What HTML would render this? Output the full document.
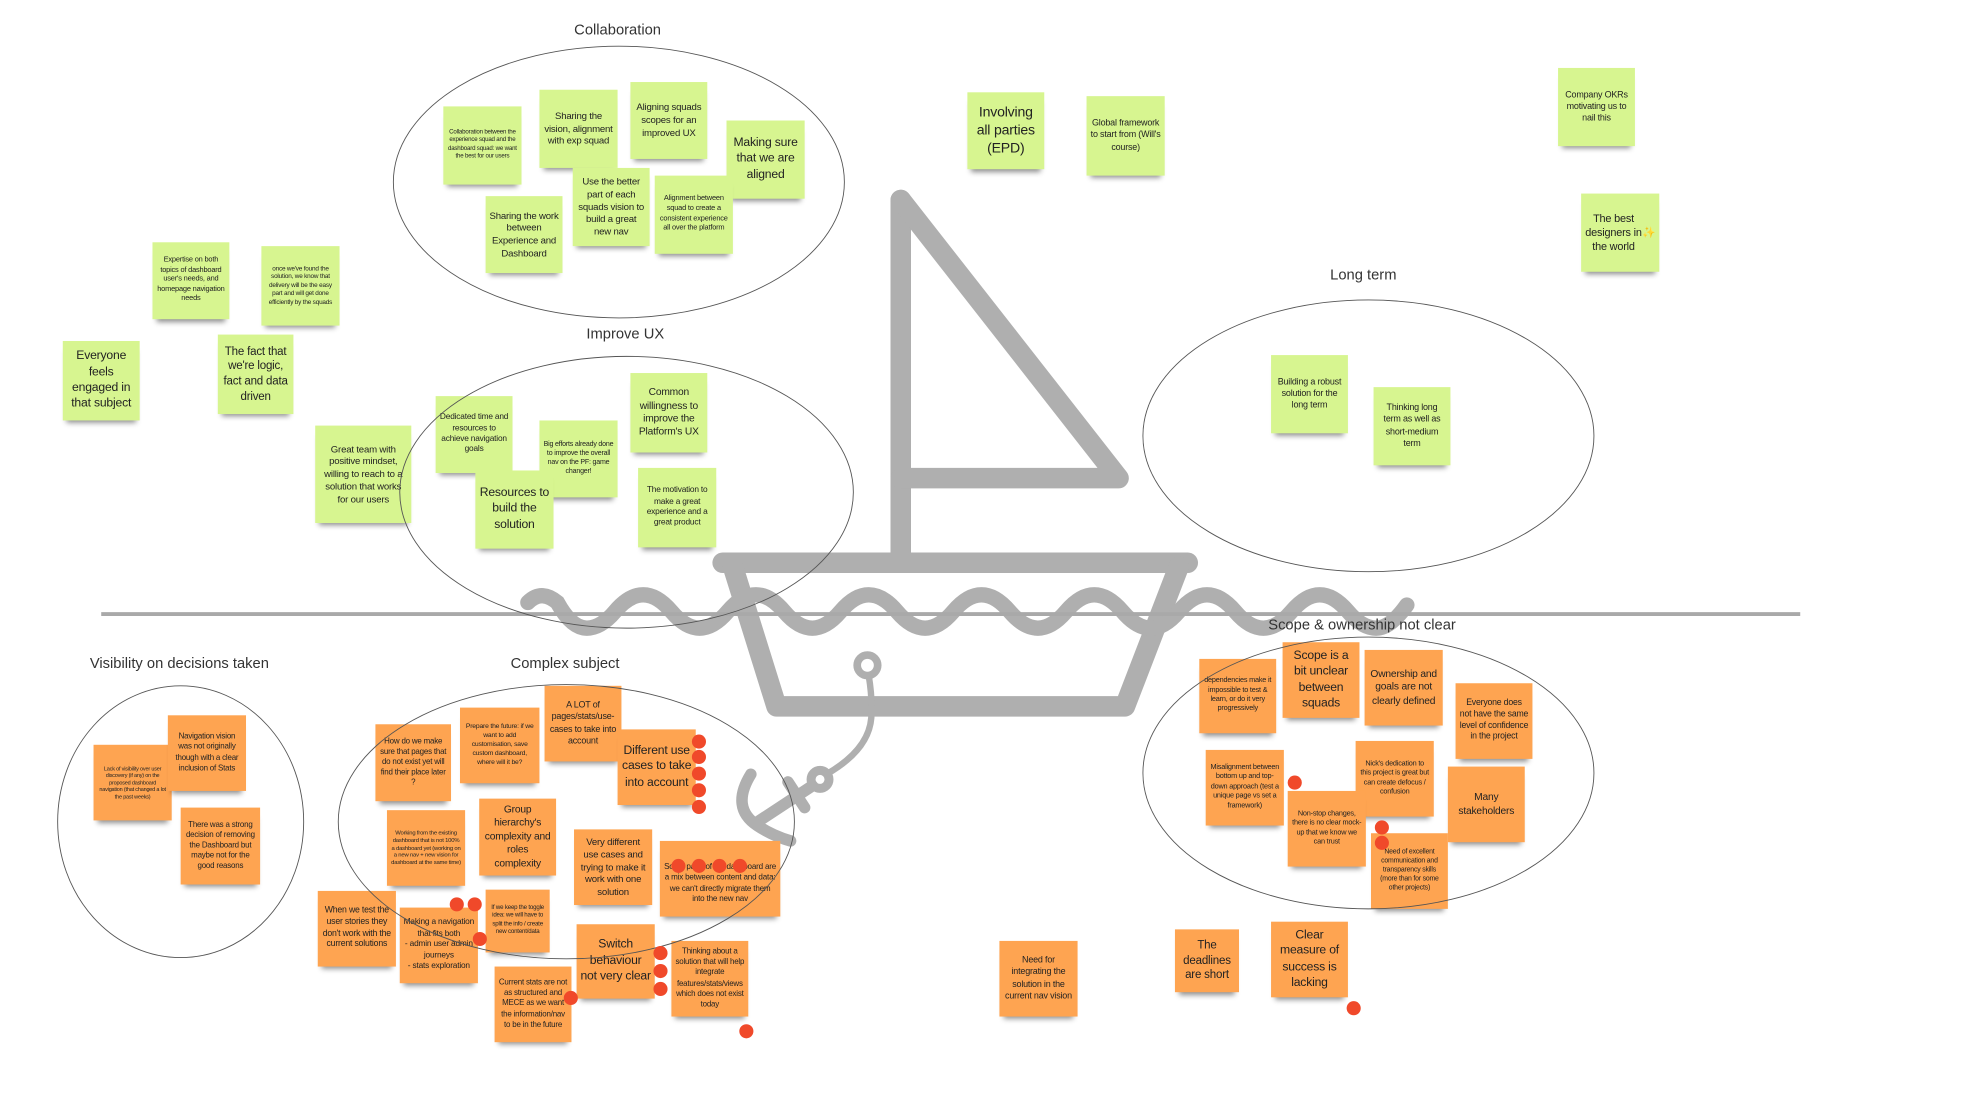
<!DOCTYPE html>
<html><head><meta charset="utf-8">
<style>
html,body{margin:0;padding:0;background:#fff;}
body{width:1986px;height:1105px;overflow:hidden;position:relative;}
#w{position:absolute;left:0;top:0;width:1550px;height:862px;transform-origin:0 0;transform:scale(1.2813,1.2819);font-family:"Liberation Sans",sans-serif;color:#222;}
.n{position:absolute;display:flex;align-items:center;justify-content:center;text-align:center;box-sizing:border-box;padding:2px 3px;line-height:1.3;box-shadow:0 5px 4px -3px rgba(0,0,0,.45);letter-spacing:-0.15px;}
.g{background:#d7f590;}
.o{background:#fea451;}
.t{position:absolute;font-size:11.5px;color:#333;white-space:nowrap;transform:translateX(-50%);}
.d{position:absolute;width:11px;height:11px;border-radius:50%;background:#f0492a;margin:-5.5px 0 0 -5.5px;}
svg{position:absolute;left:0;top:0;}
</style></head><body><div id="w">
<svg width="1550" height="862">
<g stroke="#afafaf" stroke-width="16" fill="none" stroke-linecap="round" stroke-linejoin="round">
<polyline points="703,156 703,439"/>
<polyline points="703,156 873,373 703,373"/>
<polyline points="564,439 927,439"/>
<polyline points="572,442 606,551 878,551 920,442"/>
</g>
<g stroke="#afafaf" stroke-width="12" fill="none" stroke-linecap="round">
<path d="M412,470 C420,462 428,464 435,470 Q446,490 458,490 Q469,490 480,477 Q491,464 502,464 Q513,464 524,477 Q535,490 546,490 Q557,490 568,477 Q579,464 590,464 Q601,464 612,477 Q623,490 634,490 Q645,490 656,477 Q667,464 678,464 Q689,464 700,477 Q711,490 722,490 Q733,490 744,477 Q755,464 766,464 Q777,464 788,477 Q799,490 810,490 Q821,490 832,477 Q843,464 854,464 Q865,464 876,477 Q887,490 898,490 Q909,490 920,477 Q931,464 942,464 Q953,464 964,477 Q975,490 986,490 Q997,490 1008,477 Q1019,464 1030,464 Q1041,464 1052,477 Q1063,490 1074,490 Q1085,490 1098,472"/>
</g>
<g stroke="#afafaf" fill="none" stroke-linecap="round">
<circle cx="677" cy="519" r="8" stroke-width="6"/>
<path d="M678,527 Q681,545 680,560 Q678,585 645,604" stroke-width="5"/>
<circle cx="640" cy="608" r="7" stroke-width="7"/>
<line x1="634" y1="613" x2="590" y2="642" stroke-width="9"/>
<line x1="615" y1="610" x2="628" y2="630" stroke-width="9"/>
<path d="M586,604 Q570,630 591,644 Q603,652 617,656" stroke-width="9"/>
</g>
<line x1="79" y1="479" x2="1405" y2="479" stroke="#a9a9a9" stroke-width="3"/>
</svg>
<div class="t" style="left:482px;top:18px">Collaboration</div>
<div class="t" style="left:488px;top:255px">Improve UX</div>
<div class="t" style="left:1064px;top:209px">Long term</div>
<div class="t" style="left:1063px;top:482px">Scope &amp; ownership not clear</div>
<div class="t" style="left:140px;top:512px">Visibility on decisions taken</div>
<div class="t" style="left:441px;top:512px">Complex subject</div>

<!-- green -->
<div class="n g" style="left:346px;top:83px;width:61px;height:61px;font-size:4.8px">Collaboration between the experience squad and the dashboard squad: we want the best for our users</div>
<div class="n g" style="left:421px;top:70px;width:61px;height:61px;font-size:7.5px">Sharing the vision, alignment with exp squad</div>
<div class="n g" style="left:492px;top:64px;width:60px;height:60px;font-size:7.5px">Aligning squads scopes for an improved UX</div>
<div class="n g" style="left:567px;top:94px;width:61px;height:61px;font-size:9.5px">Making sure that we are aligned</div>
<div class="n g" style="left:379px;top:153px;width:60px;height:60px;font-size:7.5px">Sharing the work between Experience and Dashboard</div>
<div class="n g" style="left:447px;top:131px;width:60px;height:61px;font-size:7.5px">Use the better part of each squads vision to build a great new nav</div>
<div class="n g" style="left:511px;top:137px;width:61px;height:61px;font-size:5.8px">Alignment between squad to create a consistent experience all over the platform</div>
<div class="n g" style="left:119px;top:189px;width:60px;height:60px;font-size:5.8px">Expertise on both topics of dashboard user's needs, and homepage navigation needs</div>
<div class="n g" style="left:204px;top:192px;width:61px;height:62px;font-size:5px">once we've found the solution, we know that delivery will be the easy part and will get done efficiently by the squads</div>
<div class="n g" style="left:49px;top:266px;width:60px;height:62px;font-size:9.5px">Everyone feels engaged in that subject</div>
<div class="n g" style="left:170px;top:261px;width:59px;height:62px;font-size:9px">The fact that we're logic, fact and data driven</div>
<div class="n g" style="left:246px;top:332px;width:75px;height:76px;font-size:7.5px">Great team with positive mindset, willing to reach to a solution that works for our users</div>
<div class="n g" style="left:340px;top:309px;width:60px;height:60px;font-size:6.5px">Dedicated time and resources to achieve navigation goals</div>
<div class="n g" style="left:421px;top:328px;width:61px;height:60px;font-size:5.5px">Big efforts already done to improve the overall nav on the PF: game changer!</div>
<div class="n g" style="left:492px;top:291px;width:60px;height:62px;font-size:8px">Common willingness to improve the Platform's UX</div>
<div class="n g" style="left:371px;top:367px;width:61px;height:61px;font-size:9.5px">Resources to build the solution</div>
<div class="n g" style="left:498px;top:365px;width:61px;height:62px;font-size:6.5px">The motivation to make a great experience and a great product</div>
<div class="n g" style="left:755px;top:72px;width:60px;height:60px;font-size:11px">Involving all parties (EPD)</div>
<div class="n g" style="left:848px;top:75px;width:61px;height:62px;font-size:7px">Global framework to start from (Will's course)</div>
<div class="n g" style="left:1216px;top:53px;width:60px;height:61px;font-size:7px">Company OKRs motivating us to nail this</div>
<div class="n g" style="left:1234px;top:151px;width:61px;height:61px;font-size:8.5px">The best designers in the world <span style="color:#f5d54a">✨</span></div>
<div class="n g" style="left:992px;top:277px;width:60px;height:61px;font-size:7px">Building a robust solution for the long term</div>
<div class="n g" style="left:1072px;top:302px;width:60px;height:61px;font-size:7px">Thinking long term as well as short-medium term</div>

<!-- orange -->
<div class="n o" style="left:73px;top:581px;width:61px;height:59px;font-size:4.3px">Lack of visibility over user discovery (if any) on the proposed dashboard navigation (that changed a lot the past weeks)</div>
<div class="n o" style="left:131px;top:558px;width:61px;height:59px;font-size:6.2px">Navigation vision was not originally though with a clear inclusion of Stats</div>
<div class="n o" style="left:141px;top:630px;width:62px;height:60px;font-size:6.2px">There was a strong decision of removing the Dashboard but maybe not for the good reasons</div>
<div class="n o" style="left:293px;top:565px;width:59px;height:60px;font-size:6.2px">How do we make sure that pages that do not exist yet will find their place later ?</div>
<div class="n o" style="left:359px;top:552px;width:62px;height:59px;font-size:5.3px">Prepare the future: if we want to add customisation, save custom dashboard, where will it be?</div>
<div class="n o" style="left:425px;top:535px;width:60px;height:59px;font-size:7px">A LOT of pages/stats/use-cases to take into account</div>
<div class="n o" style="left:482px;top:569px;width:61px;height:59px;font-size:9.5px">Different use cases to take into account</div>
<div class="n o" style="left:302px;top:632px;width:61px;height:59px;font-size:4.6px">Working from the existing dashboard that is not 100% a dashboard yet (working on a new nav + new vision for dashboard at the same time)</div>
<div class="n o" style="left:374px;top:623px;width:60px;height:60px;font-size:8px">Group hierarchy's complexity and roles complexity</div>
<div class="n o" style="left:448px;top:647px;width:61px;height:59px;font-size:7.5px">Very different use cases and trying to make it work with one solution</div>
<div class="n o" style="left:515px;top:656px;width:94px;height:59px;font-size:6.3px;padding-top:10px">Some parts of the dashboard are a mix between content and data: we can't directly migrate them into the new nav</div>
<div class="n o" style="left:248px;top:695px;width:61px;height:59px;font-size:6.8px">When we test the user stories they don't work with the current solutions</div>
<div class="n o" style="left:312px;top:708px;width:61px;height:59px;font-size:6.5px">Making a navigation that fits both<br>- admin user admin journeys<br>- stats exploration</div>
<div class="n o" style="left:379px;top:694px;width:50px;height:49px;font-size:4.8px">If we keep the toggle idea: we will have to split the info / create new content/data</div>
<div class="n o" style="left:450px;top:721px;width:61px;height:58px;font-size:9.5px">Switch behaviour not very clear</div>
<div class="n o" style="left:386px;top:754px;width:60px;height:59px;font-size:6.2px">Current stats are not as structured and MECE as we want the information/nav to be in the future</div>
<div class="n o" style="left:524px;top:734px;width:60px;height:59px;font-size:6.2px">Thinking about a solution that will help integrate features/stats/views which does not exist today</div>
<div class="n o" style="left:780px;top:734px;width:61px;height:59px;font-size:7px">Need for integrating the solution in the current nav vision</div>
<div class="n o" style="left:936px;top:514px;width:60px;height:58px;font-size:5.7px">dependencies make it impossible to test &amp; learn, or do it very progressively</div>
<div class="n o" style="left:1001px;top:501px;width:60px;height:59px;font-size:9.5px">Scope is a bit unclear between squads</div>
<div class="n o" style="left:1065px;top:507px;width:61px;height:59px;font-size:8px">Ownership and goals are not clearly defined</div>
<div class="n o" style="left:1136px;top:533px;width:60px;height:59px;font-size:6.8px">Everyone does not have the same level of confidence in the project</div>
<div class="n o" style="left:941px;top:585px;width:61px;height:59px;font-size:5.7px">Misalignment between bottom up and top-down approach (test a unique page vs set a framework)</div>
<div class="n o" style="left:1058px;top:578px;width:61px;height:59px;font-size:5.7px">Nick's dedication to this project is great but can create defocus / confusion</div>
<div class="n o" style="left:1130px;top:598px;width:60px;height:59px;font-size:8px">Many stakeholders</div>
<div class="n o" style="left:1005px;top:617px;width:61px;height:59px;font-size:5.7px">Non-stop changes, there is no clear mock-up that we know we can trust</div>
<div class="n o" style="left:1070px;top:650px;width:60px;height:59px;font-size:5.4px">Need of excellent communication and transparency skills (more than for some other projects)</div>
<div class="n o" style="left:917px;top:725px;width:50px;height:49px;font-size:9px">The deadlines are short</div>
<div class="n o" style="left:992px;top:719px;width:60px;height:59px;font-size:9.5px">Clear measure of success is lacking</div>

<svg width="1550" height="862" style="pointer-events:none">
<g fill="none" stroke="#555" stroke-width="0.7">
<ellipse cx="483" cy="142" rx="176" ry="106"/>
<ellipse cx="489" cy="384" rx="177" ry="106"/>
<ellipse cx="1068" cy="340" rx="176" ry="106"/>
<ellipse cx="1068" cy="603" rx="176" ry="106"/>
<ellipse cx="141" cy="641" rx="96" ry="106"/>
<ellipse cx="442" cy="641" rx="178" ry="107"/>
</g>
</svg>
<div class="d" style="left:545px;top:578px"></div>
<div class="d" style="left:545px;top:590px"></div>
<div class="d" style="left:545px;top:603px"></div>
<div class="d" style="left:545px;top:616px"></div>
<div class="d" style="left:545px;top:629px"></div>
<div class="d" style="left:529px;top:675px"></div>
<div class="d" style="left:545px;top:675px"></div>
<div class="d" style="left:561px;top:675px"></div>
<div class="d" style="left:577px;top:675px"></div>
<div class="d" style="left:356px;top:705px"></div>
<div class="d" style="left:370px;top:705px"></div>
<div class="d" style="left:374px;top:732px"></div>
<div class="d" style="left:515px;top:743px"></div>
<div class="d" style="left:515px;top:757px"></div>
<div class="d" style="left:515px;top:771px"></div>
<div class="d" style="left:445px;top:778px"></div>
<div class="d" style="left:582px;top:804px"></div>
<div class="d" style="left:1010px;top:610px"></div>
<div class="d" style="left:1078px;top:645px"></div>
<div class="d" style="left:1078px;top:657px"></div>
<div class="d" style="left:1056px;top:786px"></div>
</div></body></html>
